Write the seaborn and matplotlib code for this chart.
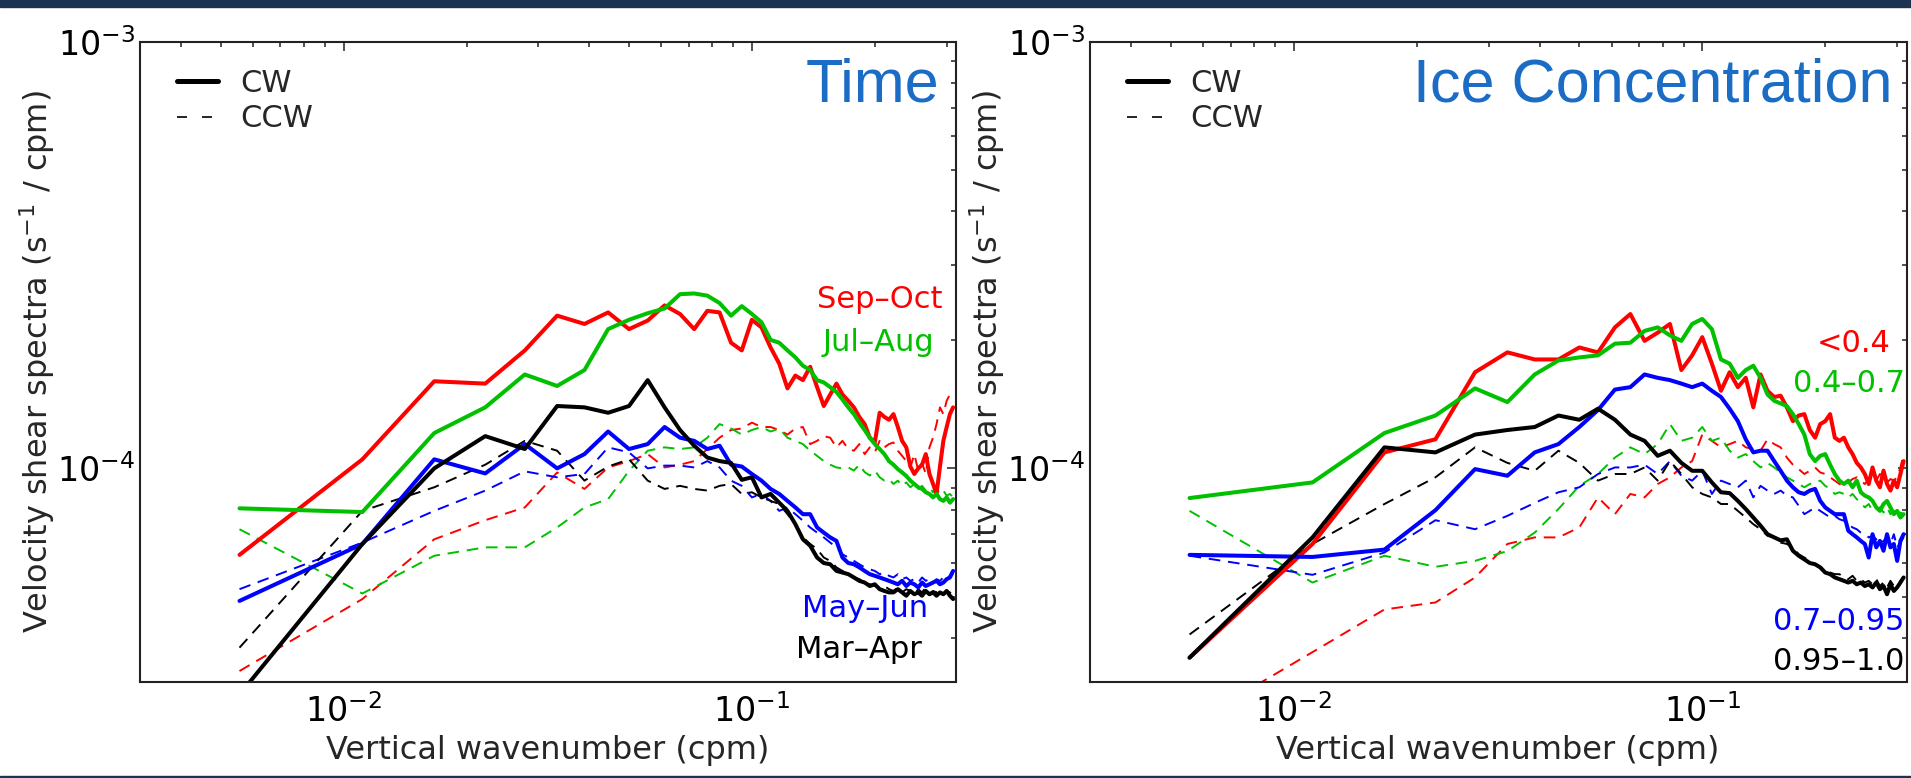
import numpy as np
import pandas as pd
import seaborn as sns
import matplotlib
matplotlib.use("Agg")
import matplotlib.pyplot as plt
from matplotlib.ticker import FixedLocator, LogLocator, NullFormatter, LogFormatterMathtext
from matplotlib.lines import Line2D
from matplotlib.patches import Rectangle

# ---------------- data (spectra in units of 1e-5 s^-1/cpm) ----------------
SCALE = 1e-5
wavenumber = np.arange(1, 57) / 180.0   # cpm, spectral grid of a 180 m window

# Left panel: "Time"
time_labels = ["Sep\u2013Oct", "Jul\u2013Aug", "May\u2013Jun", "Mar\u2013Apr"]
time_cw_sep_oct = [6.27, 10.5, 16.0, 15.8, 18.9, 22.8, 21.8, 23.2, 21.2, 22.2,
                   24.1, 23.0, 21.2, 23.4, 23.2, 19.7, 18.9, 22.3, 21.4, 19.2,
                   17.6, 15.4, 16.5, 16.1, 17.3, 15.5, 14.0, 14.9, 15.8, 14.9,
                   14.4, 13.9, 13.2, 12.7, 11.8, 11.5, 13.5, 13.2, 13.0, 13.4,
                   12.5, 11.6, 11.2, 10.1, 9.7, 10.0, 10.2, 10.8, 9.7, 9.2,
                   8.71, 10.1, 11.6, 12.5, 13.4, 13.9]
time_cw_jul_aug = [8.06, 7.9, 12.1, 13.9, 16.6, 15.6, 17.0, 21.2, 22.3, 23.1,
                   23.7, 25.6, 25.7, 25.4, 24.4, 22.8, 24.0, 23.0, 22.0, 20.0,
                   19.7, 18.9, 18.2, 17.4, 17.0, 16.1, 15.9, 15.5, 15.1, 14.5,
                   13.9, 13.4, 12.8, 12.3, 11.8, 11.4, 11.1, 10.8, 10.4, 10.2,
                   9.96, 9.78, 9.6, 9.36, 9.19, 9.03, 8.95, 8.79, 8.71, 8.55,
                   8.71, 8.47, 8.39, 8.55, 8.31, 8.47]
time_cw_may_jun = [4.89, 6.65, 10.5, 9.73, 11.4, 10.0, 10.8, 12.2, 11.1, 11.4,
                   12.5, 11.8, 11.6, 11.1, 11.3, 10.2, 10.1, 9.7, 9.36, 8.95,
                   8.71, 8.39, 8.1, 7.81, 7.81, 7.27, 7.07, 6.89, 6.76, 6.18,
                   6.0, 5.96, 5.86, 5.75, 5.65, 5.6, 5.55, 5.5, 5.45, 5.4,
                   5.35, 5.45, 5.3, 5.4, 5.35, 5.26, 5.4, 5.3, 5.35, 5.4,
                   5.45, 5.35, 5.4, 5.5, 5.55, 5.75]
time_cw_mar_apr = [2.95, 6.65, 10.0, 11.9, 11.1, 14.0, 13.9, 13.5, 14.0, 16.1,
                   13.9, 12.3, 11.3, 10.6, 10.4, 10.3, 9.4, 9.53, 8.55, 8.71,
                   8.31, 7.95, 7.4, 6.82, 6.59, 6.18, 6.0, 5.96, 5.75, 5.7,
                   5.65, 5.55, 5.45, 5.4, 5.3, 5.35, 5.21, 5.16, 5.12, 5.12,
                   5.21, 5.12, 5.03, 5.16, 5.07, 5.12, 5.03, 5.16, 5.07, 5.12,
                   5.03, 5.12, 5.07, 5.16, 5.03, 4.94]
time_ccw_sep_oct = [3.35, 4.94, 6.82, 7.56, 8.1, 9.78, 8.95, 10.05, 10.4, 10.8,
                    10.05, 10.2, 10.4, 11.1, 11.8, 12.3, 12.4, 12.8, 12.5, 12.5,
                    12.3, 12.0, 12.4, 12.5, 11.4, 11.6, 11.9, 11.8, 11.2, 11.6,
                    11.1, 11.0, 11.4, 10.8, 11.2, 10.9, 11.6, 11.2, 11.4, 11.5,
                    11.0, 10.7, 10.4, 10.05, 10.8, 9.88, 10.3, 9.7, 11.2, 11.8,
                    12.7, 13.9, 13.4, 14.4, 14.9, 14.6]
time_ccw_jul_aug = [7.2, 5.09, 6.24, 6.53, 6.53, 7.27, 8.1, 8.47, 9.87, 11.0,
                    11.2, 11.1, 11.2, 11.8, 12.7, 12.4, 12.0, 12.3, 12.5, 12.2,
                    12.4, 11.8, 11.6, 11.4, 11.0, 10.7, 10.4, 10.2, 10.05, 10.0,
                    10.05, 9.88, 10.2, 9.8, 9.62, 9.88, 9.53, 9.36, 9.44, 9.19,
                    9.36, 9.1, 9.27, 9.03, 9.19, 8.95, 9.1, 8.87, 9.03, 8.79,
                    8.95, 8.71, 8.87, 8.63, 8.71, 8.55]
time_ccw_may_jun = [5.21, 6.7, 7.95, 8.87, 9.84, 9.53, 9.7, 11.2, 10.9, 10.0,
                    10.15, 10.15, 10.05, 10.4, 10.05, 9.36, 9.1, 8.55, 8.71, 8.39,
                    7.95, 8.1, 7.81, 7.54, 7.27, 7.07, 6.89, 6.7, 6.53, 6.29,
                    6.18, 6.07, 5.96, 5.86, 5.8, 5.75, 5.65, 5.7, 5.6, 5.55,
                    5.65, 5.5, 5.55, 5.45, 5.5, 5.4, 5.55, 5.45, 5.5, 5.4,
                    5.5, 5.45, 5.55, 5.5, 5.6, 5.65]
time_ccw_mar_apr = [3.8, 7.95, 9.03, 10.2, 11.6, 11.0, 9.36, 10.1, 10.5, 9.36,
                    8.95, 9.1, 8.95, 8.87, 9.1, 9.19, 8.71, 8.79, 8.55, 8.39,
                    8.25, 7.81, 7.4, 6.89, 6.65, 6.47, 6.18, 6.07, 5.86, 5.75,
                    5.65, 5.55, 5.5, 5.4, 5.35, 5.3, 5.26, 5.3, 5.21, 5.16,
                    5.26, 5.12, 5.21, 5.16, 5.07, 5.21, 5.12, 5.26, 5.07, 5.16,
                    5.12, 5.21, 5.07, 5.16, 5.12, 5.03]

# Right panel: "Ice Concentration"
ice_labels = ["<0.4", "0.4\u20130.7", "0.7\u20130.95", "0.95\u20131.0"]
ice_cw_lt04 = [3.6, 6.65, 10.9, 11.7, 16.8, 18.7, 18.0, 18.0, 19.2, 18.7,
               21.4, 23.0, 19.9, 20.8, 21.8, 17.0, 18.4, 20.3, 17.6, 15.2,
               16.8, 15.5, 16.3, 13.9, 16.6, 15.2, 14.7, 14.8, 13.9, 12.9,
               13.3, 13.4, 12.3, 11.8, 12.7, 12.9, 13.4, 11.8, 11.6, 11.8,
               11.2, 10.8, 10.3, 10.05, 9.7, 9.19, 10.05, 9.36, 9.03, 9.88,
               9.19, 8.87, 9.36, 9.03, 9.7, 10.4]
ice_cw_04_07 = [8.52, 9.27, 12.1, 13.3, 15.4, 14.3, 16.6, 17.9, 18.2, 18.4,
                19.6, 19.7, 21.0, 21.4, 20.5, 19.9, 21.8, 22.4, 21.2, 18.0,
                17.6, 16.3, 17.0, 17.4, 16.3, 14.9, 14.4, 14.2, 14.0, 13.4,
                12.7, 12.0, 10.8, 10.4, 10.7, 10.8, 10.2, 9.7, 9.36, 9.19,
                9.36, 9.03, 9.36, 8.79, 8.63, 8.55, 8.39, 8.1, 7.95, 8.25,
                8.39, 8.1, 7.81, 7.95, 7.67, 7.81]
ice_cw_07_095 = [6.27, 6.2, 6.45, 7.98, 9.96, 9.61, 10.9, 11.4, 12.5, 13.7,
                 15.3, 15.5, 16.6, 16.3, 16.1, 15.8, 15.5, 15.8, 15.2, 14.7,
                 13.8, 12.9, 11.7, 10.9, 11.0, 11.0, 10.4, 9.87, 9.36, 9.03,
                 8.79, 8.71, 8.87, 8.95, 8.39, 8.1, 7.95, 7.81, 7.81, 7.81,
                 7.14, 7.01, 6.89, 6.76, 6.65, 6.18, 7.01, 6.53, 6.76, 6.41,
                 7.01, 6.53, 6.65, 6.07, 6.76, 7.01]
ice_cw_095_10 = [3.6, 6.89, 11.2, 10.9, 12.0, 12.3, 12.5, 13.3, 13.0, 13.8,
                 13.0, 12.0, 11.6, 10.7, 11.0, 10.3, 9.87, 9.87, 9.27, 8.79,
                 8.75, 8.39, 8.03, 7.67, 7.34, 7.01, 6.89, 6.78, 6.82, 6.41,
                 6.24, 6.12, 6.0, 5.96, 5.86, 5.7, 5.65, 5.55, 5.5, 5.45,
                 5.4, 5.45, 5.35, 5.4, 5.3, 5.35, 5.26, 5.4, 5.21, 5.3,
                 5.07, 5.35, 5.16, 5.26, 5.4, 5.55]
ice_ccw_lt04 = [2.51, 3.71, 4.67, 4.85, 5.55, 6.65, 6.89, 6.89, 7.27, 8.55,
                7.81, 8.71, 8.55, 9.19, 9.53, 10.05, 10.4, 12.0, 11.6, 11.2,
                11.4, 11.6, 11.2, 11.1, 11.0, 11.7, 11.4, 11.2, 10.6, 10.2,
                9.96, 9.7, 9.87, 10.05, 9.78, 9.7, 9.53, 9.36, 9.19, 9.1,
                9.27, 9.44, 9.53, 9.36, 9.19, 9.44, 9.62, 9.36, 9.7, 9.53,
                9.27, 9.44, 9.36, 9.53, 10.05, 10.8]
ice_ccw_04_07 = [7.95, 5.4, 6.24, 5.88, 6.07, 6.4, 7.07, 8.03, 9.1, 9.7,
                 10.6, 11.2, 10.8, 11.4, 12.7, 11.6, 11.8, 12.5, 11.6, 11.8,
                 11.0, 10.6, 10.8, 10.4, 10.05, 10.3, 10.05, 9.78, 9.53, 9.36,
                 9.19, 9.03, 9.19, 9.27, 9.36, 9.1, 8.95, 8.71, 8.79, 8.71,
                 8.55, 8.71, 8.47, 8.31, 8.1, 8.25, 7.95, 8.03, 8.1, 7.88,
                 8.1, 7.81, 7.95, 7.74, 7.88, 7.81]
ice_ccw_07_095 = [6.24, 5.63, 6.35, 7.56, 7.2, 7.74, 8.3, 8.79, 9.03, 9.7,
                  10.05, 10.05, 10.2, 9.7, 10.4, 9.61, 9.36, 9.87, 8.71, 9.36,
                  9.19, 9.03, 9.36, 8.55, 9.1, 8.87, 8.71, 8.87, 8.63, 8.55,
                  8.17, 7.81, 7.95, 8.1, 7.95, 7.81, 7.67, 7.74, 7.6, 7.54,
                  7.4, 7.27, 7.2, 7.07, 7.01, 6.89, 6.95, 6.82, 6.65, 6.76,
                  6.89, 6.65, 7.01, 6.53, 6.7, 6.89]
ice_ccw_095_10 = [4.08, 6.65, 8.25, 9.53, 11.2, 10.3, 9.87, 11.0, 10.3, 9.36,
                  9.7, 9.7, 10.05, 9.36, 10.4, 9.7, 9.03, 8.71, 8.55, 8.25,
                  8.25, 7.95, 7.67, 7.4, 7.2, 6.95, 6.89, 6.7, 6.65, 6.53,
                  6.29, 6.18, 6.07, 5.96, 5.86, 5.8, 5.7, 5.65, 5.65, 5.55,
                  5.5, 5.6, 5.45, 5.5, 5.4, 5.45, 5.35, 5.5, 5.3, 5.4,
                  5.26, 5.45, 5.3, 5.35, 5.45, 5.55]

line_colors = ["#ff0000", "#00c000", "#0000ff", "#000000"]
title_color = "#1a6cc4"

# ---------------- style ----------------
sns.set_style("white")
plt.rcParams["font.family"] = ["DejaVu Sans"]
plt.rcParams["mathtext.fontset"] = "dejavusans"


def make_frame(labels, cw, ccw):
    rows = []
    for lab, c, cc in zip(labels, cw, ccw):
        for k, a, b in zip(wavenumber, c, cc):
            rows.append({"k": k, "S": a * SCALE, "group": lab, "rot": "CW"})
            rows.append({"k": k, "S": b * SCALE, "group": lab, "rot": "CCW"})
    return pd.DataFrame(rows)


W, H = 1911, 778
fig = plt.figure(figsize=(W / 100, H / 100), dpi=100)
fig.patch.set_facecolor("white")

ax_bottom = (H - 681.7) / H
ax_height = 640.0 / H
ax1 = fig.add_axes([139.6 / W, ax_bottom, 816.4 / W, ax_height])
ax2 = fig.add_axes([1089.6 / W, ax_bottom, 816.9 / W, ax_height])

panels = [
    (ax1, time_labels,
     [time_cw_sep_oct, time_cw_jul_aug, time_cw_may_jun, time_cw_mar_apr],
     [time_ccw_sep_oct, time_ccw_jul_aug, time_ccw_may_jun, time_ccw_mar_apr],
     "Time", 0.980,
     [(0.984, 0.584), (0.973, 0.517), (0.966, 0.101), (0.958, 0.037)]),
    (ax2, ice_labels,
     [ice_cw_lt04, ice_cw_04_07, ice_cw_07_095, ice_cw_095_10],
     [ice_ccw_lt04, ice_ccw_04_07, ice_ccw_07_095, ice_ccw_095_10],
     "Ice Concentration", 0.983,
     [(0.980, 0.515), (0.998, 0.453), (0.998, 0.081), (0.998, 0.018)]),
]

for ax, labels, cw, ccw, title, tx, lab_pos in panels:
    df = make_frame(labels, cw, ccw)
    pal = dict(zip(labels, line_colors))
    sns.lineplot(data=df[df["rot"] == "CCW"], x="k", y="S", hue="group",
                 hue_order=labels, palette=pal, linewidth=1.4,
                 linestyle=(0, (6, 4)), legend=False, ax=ax,
                 estimator=None, errorbar=None)
    sns.lineplot(data=df[df["rot"] == "CW"], x="k", y="S", hue="group",
                 hue_order=labels, palette=pal, linewidth=2.9,
                 legend=False, ax=ax, estimator=None, errorbar=None)

    ax.set_xscale("log")
    ax.set_yscale("log")
    ax.set_xlim(10 ** -2.5, 10 ** -0.5)
    ax.set_ylim(10 ** -4.5, 1e-3)
    ax.xaxis.set_major_locator(FixedLocator([1e-2, 1e-1]))
    ax.yaxis.set_major_locator(FixedLocator([1e-4, 1e-3]))
    ax.xaxis.set_major_formatter(LogFormatterMathtext())
    ax.yaxis.set_major_formatter(LogFormatterMathtext())
    ax.xaxis.set_minor_locator(LogLocator(base=10, subs=np.arange(2, 10), numticks=20))
    ax.yaxis.set_minor_locator(LogLocator(base=10, subs=np.arange(2, 10), numticks=20))
    ax.xaxis.set_minor_formatter(NullFormatter())
    ax.yaxis.set_minor_formatter(NullFormatter())
    ax.tick_params(which="both", direction="in", top=True, right=True,
                   colors="#222222", labelcolor="black", width=1.1)
    ax.tick_params(which="major", length=6.5, labelsize=24)
    ax.tick_params(axis="x", which="major", pad=9)
    ax.tick_params(axis="y", which="major", pad=3)
    ax.tick_params(which="minor", length=3.6)
    for sp in ax.spines.values():
        sp.set_color("#222222")
        sp.set_linewidth(1.5)

    ax.set_xlabel("Vertical wavenumber (cpm)", fontsize=23, labelpad=4)
    ax.set_ylabel("Velocity shear spectra (s$^{-1}$ / cpm)", fontsize=23, labelpad=0)
    ax.grid(False)

    ax.text(tx, 0.906, title, transform=ax.transAxes, ha="right", va="baseline",
            fontsize=44, color=title_color, family=["Liberation Sans", "DejaVu Sans"])

    for (x, y), lab, col in zip(lab_pos, labels, line_colors):
        ax.text(x, y, lab, transform=ax.transAxes, ha="right", va="baseline",
                fontsize=22, color=col)

    handles = [Line2D([], [], color="black", linewidth=3.6),
               Line2D([], [], color="black", linewidth=1.2, linestyle=(0, (6, 9)))]
    ax.legend(handles, ["CW", "CCW"], loc="upper left",
              bbox_to_anchor=(0.046, 0.958), frameon=False, fontsize=22,
              handlelength=1.35, handletextpad=0.7, labelspacing=0.22,
              borderaxespad=0, borderpad=0)

# dark frame bars of the slide
fig.add_artist(Rectangle((0, 1 - 7 / H), 1, 7 / H, transform=fig.transFigure,
                         color="#1b3350", zorder=10))
fig.add_artist(Rectangle((0, 0), 1, 2 / H, transform=fig.transFigure,
                         color="#1b3350", zorder=10))

fig.savefig("out.png", dpi=100)
